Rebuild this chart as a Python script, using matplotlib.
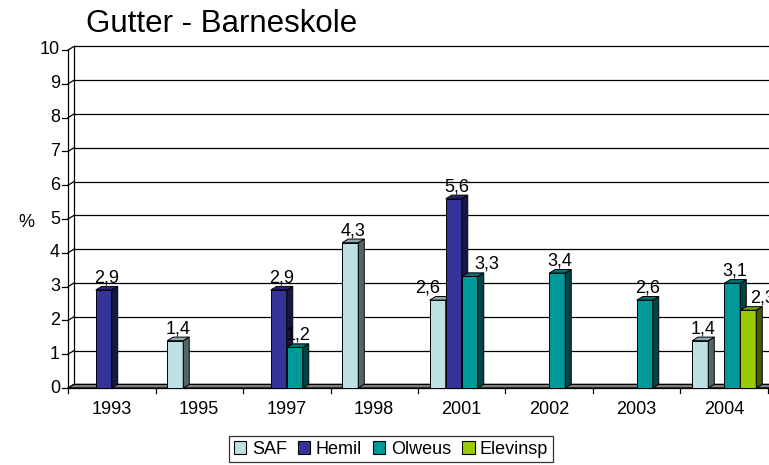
import numpy as np
import matplotlib
matplotlib.use("Agg")
import matplotlib.pyplot as plt
from matplotlib.patches import Polygon, Patch
from matplotlib.colors import to_rgb

plt.rcParams['font.family'] = ['Liberation Sans', 'DejaVu Sans']

nan = np.nan
categories = ['1993', '1995', '1997', '1998', '2001', '2002', '2003', '2004']
series_names = ['SAF', 'Hemil', 'Olweus', 'Elevinsp']
saf = [nan, 1.4, nan, 4.3, 2.6, nan, nan, 1.4]
hemil = [2.9, nan, 2.9, nan, 5.6, nan, nan, nan]
olweus = [nan, nan, 1.2, nan, 3.3, 3.4, 2.6, 3.1]
elevinsp = [nan, nan, nan, nan, nan, nan, nan, 2.3]
series_values = [saf, hemil, olweus, elevinsp]
colors = ['#BCE0E3', '#333399', '#009999', '#99CC00']
title = 'Gutter - Barneskole'
y_ticks = list(range(0, 11))

# horizontal label nudges (px) where labels were moved to avoid overlap
label_nudge_px = {(4, 0): -13, (4, 2): 14, (7, 3): 11}

W, H = 769, 465
fig = plt.figure(figsize=(W / 100, H / 100), dpi=100)
# front plane: x from 68px to 768px, y 0 at 388px, 10 at 50px
ax = fig.add_axes([68 / W, (H - 388) / H, 700 / W, 338 / H])
ax.set_xlim(-0.5, 7.5)
ax.set_ylim(0, 10)
for s in ax.spines.values():
    s.set_visible(False)
ax.set_xticks([])
ax.set_yticks([])
ax.patch.set_alpha(0)

px_x = 700 / 8.0   # px per x unit
px_y = 338 / 10.0  # px per y unit
dx = 6 / px_x
dy = 3.6 / px_y
xr = 8.0  # beyond right edge

lw = 0.9
# back wall gridlines + side-wall diagonals + front ticks
for t in y_ticks:
    ax.plot([-0.5 + dx, xr], [t + dy, t + dy], color='black', lw=lw, clip_on=False, zorder=1)
    ax.plot([-0.5, -0.5 + dx], [t, t + dy], color='black', lw=lw, clip_on=False, zorder=1)
    ax.plot([-0.5 - 6 / px_x, -0.5], [t, t], color='black', lw=lw, clip_on=False, zorder=1)
    ax.text(-0.5 - 8 / px_x, t, str(t), ha='right', va='center', fontsize=13, clip_on=False)
# back wall left edge
ax.plot([-0.5 + dx, -0.5 + dx], [dy, 10 + dy], color='black', lw=lw, clip_on=False, zorder=1)
# front y axis line
ax.plot([-0.5, -0.5], [0, 10], color='black', lw=lw, clip_on=False, zorder=1)

# floor slab
floor = Polygon([(-0.5, 0), (xr, 0), (xr + dx, dy), (-0.5 + dx, dy)], closed=True,
                facecolor='#808080', edgecolor='black', lw=lw, clip_on=False, zorder=2)
ax.add_patch(floor)
ax.plot([-0.5, xr], [0, 0], color='black', lw=lw, clip_on=False, zorder=2)

# x ticks at category boundaries
for b in np.arange(-0.5, 8.0, 1.0):
    ax.plot([b, b], [0, -5 / px_y], color='black', lw=lw, clip_on=False, zorder=2)
for i, c in enumerate(categories):
    ax.text(i, -21 / px_y, c, ha='center', va='center', fontsize=13, clip_on=False)

w = 16 / px_x
offsets = [-1.5 * w, -0.5 * w, 0.5 * w, 1.5 * w]


def shade(c, f):
    r, g, b = to_rgb(c)
    return (r * f, g * f, b * f)


for i in range(len(categories)):
    for k, vals in enumerate(series_values):
        v = vals[i]
        if np.isnan(v):
            continue
        x = i + offsets[k]
        z = 3 + i * 10 + k
        col = colors[k]
        ax.bar(x, v, width=w, color=col, edgecolor='black', lw=0.7, zorder=z, clip_on=False)
        side = Polygon([(x + w / 2, 0), (x + w / 2 + dx, dy), (x + w / 2 + dx, v + dy), (x + w / 2, v)],
                       closed=True, facecolor=shade(col, 0.45), edgecolor='black', lw=0.7,
                       zorder=z, clip_on=False)
        top = Polygon([(x - w / 2, v), (x + w / 2, v), (x + w / 2 + dx, v + dy), (x - w / 2 + dx, v + dy)],
                      closed=True, facecolor=shade(col, 0.75), edgecolor='black', lw=0.7,
                      zorder=z, clip_on=False)
        ax.add_patch(side)
        ax.add_patch(top)
        nud = label_nudge_px.get((i, k), 0) / px_x
        ax.text(x + dx / 2 + nud, v + dy + 4.0 / px_y, f'{v:.1f}'.replace('.', ','), ha='center',
                va='baseline', fontsize=13, zorder=200, clip_on=False)

# % label
fig.text(26 / W, 1 - 222 / H, '%', ha='center', va='center', fontsize=13)

# title
fig.text(86 / W, 1 - 32 / H, title, ha='left', va='baseline', fontsize=22.5)

# legend
handles = [Patch(facecolor=colors[k], edgecolor='black', lw=0.8, label=series_names[k]) for k in range(4)]
leg = fig.legend(handles=handles, loc='center', bbox_to_anchor=(391 / W, 1 - 449 / H), ncol=4,
                 fontsize=13, frameon=True, fancybox=False, handlelength=0.7, handleheight=0.7,
                 handletextpad=0.3, columnspacing=0.6, borderpad=0.25, borderaxespad=0)
leg.get_frame().set_edgecolor('black')
leg.get_frame().set_linewidth(0.9)

fig.savefig('out.png', dpi=100)
